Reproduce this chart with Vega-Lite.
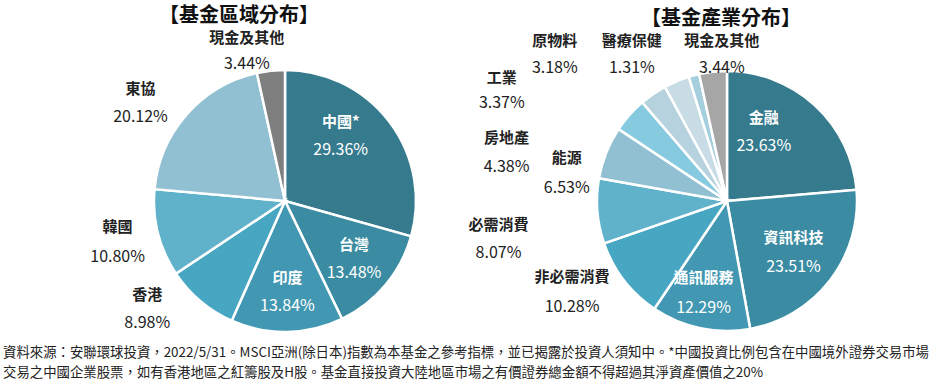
{
  "$schema": "https://vega.github.io/schema/vega-lite/v6.json",
  "padding": {"left": 3, "top": 5, "right": 0, "bottom": 0},
  "background": "white",
  "config": {
    "view": {"stroke": null},
    "font": "Noto Sans CJK TC",
    "text": {"font": "Noto Sans CJK TC", "baseline": "middle", "align": "center"}
  },
  "title": {
    "text": [
      "資料來源：安聯環球投資，2022/5/31。MSCI亞洲(除日本)指數為本基金之參考指標，並已揭露於投資人須知中。*中國投資比例包含在中國境外證券交易市場",
      "交易之中國企業股票，如有香港地區之紅籌股及H股。基金直接投資大陸地區市場之有價證券總金額不得超過其淨資產價值之20%"
    ],
    "orient": "bottom",
    "anchor": "start",
    "frame": "group",
    "fontSize": 13.4,
    "fontWeight": "normal",
    "color": "#222222",
    "font": "Noto Sans CJK TC",
    "lineHeight": 20,
    "offset": 5
  },
  "bounds": "flush",
  "spacing": 0,
  "resolve": {"scale": {"color": "independent", "theta": "independent"}},
  "hconcat": [
    {
      "width": 564,
      "height": 280,
      "title": {"text": "【基金區域分布】", "fontSize": 20, "fontWeight": "bold", "color": "#111111", "font": "Noto Sans CJK TC", "anchor": "middle", "dx": -46, "offset": 5},
      "data": {"values": [
        {"idx": 1, "name": "中國*", "share": 29.36},
        {"idx": 2, "name": "台灣", "share": 13.48},
        {"idx": 3, "name": "印度", "share": 13.84},
        {"idx": 4, "name": "香港", "share": 8.98},
        {"idx": 5, "name": "韓國", "share": 10.80},
        {"idx": 6, "name": "東協", "share": 20.12},
        {"idx": 7, "name": "現金及其他", "share": 3.44}
      ]},
      "transform": [
        {"stack": "share", "groupby": [], "sort": [{"field": "idx", "order": "ascending"}], "as": ["s0", "s1"]},
        {"calculate": "(datum.s0 + datum.s1) / 2", "as": "mid"},
        {"calculate": "format(datum.share, '.2f') + '%'", "as": "pct"}
      ],
      "encoding": {
        "theta": {"field": "mid", "type": "quantitative", "scale": {"domain": [0, 100.02], "range": [0, 6.283185], "nice": false, "zero": true}}
      },
      "layer": [
        {
          "mark": {"type": "arc", "radius": 131, "stroke": "white", "strokeWidth": 2.5},
          "encoding": {
            "theta": {"field": "s0", "type": "quantitative"},
            "theta2": {"field": "s1"},
            "color": {"field": "name", "type": "nominal", "legend": null,
              "scale": {"domain": ["中國*", "台灣", "印度", "香港", "韓國", "東協", "現金及其他"],
                        "range": ["#357a8d", "#3b8ca2", "#4298b2", "#47a6c1", "#60b2cb", "#91c0d3", "#7f7f7f"]}}
          }
        },
        {"transform": [{"filter": "datum.name === '中國*'"}], "encoding": {"radius": {"value": 90}}, "layer": [
          {"mark": {"type": "text", "dx": -16, "dy": -25, "fontSize": 15, "fontWeight": "bold", "fill": "white"}, "encoding": {"text": {"field": "name"}}},
          {"mark": {"type": "text", "dx": -16, "dy": 3, "fontSize": 16, "fill": "white"}, "encoding": {"text": {"field": "pct"}}}
        ]},
        {"transform": [{"filter": "datum.name === '台灣'"}], "encoding": {"radius": {"value": 90}}, "layer": [
          {"mark": {"type": "text", "dx": 0, "dy": -14, "fontSize": 15, "fontWeight": "bold", "fill": "white"}, "encoding": {"text": {"field": "name"}}},
          {"mark": {"type": "text", "dx": 0, "dy": 14, "fontSize": 16, "fill": "white"}, "encoding": {"text": {"field": "pct"}}}
        ]},
        {"transform": [{"filter": "datum.name === '印度'"}], "encoding": {"radius": {"value": 90}}, "layer": [
          {"mark": {"type": "text", "dx": 1, "dy": -13, "fontSize": 15, "fontWeight": "bold", "fill": "white"}, "encoding": {"text": {"field": "name"}}},
          {"mark": {"type": "text", "dx": 1, "dy": 15, "fontSize": 16, "fill": "white"}, "encoding": {"text": {"field": "pct"}}}
        ]},
        {"transform": [{"filter": "datum.name === '現金及其他'"}], "encoding": {"radius": {"value": 150}}, "layer": [
          {"mark": {"type": "text", "dx": -22, "dy": -14, "fontSize": 15, "fontWeight": "bold", "fill": "#222222"}, "encoding": {"text": {"field": "name"}}},
          {"mark": {"type": "text", "dx": -22, "dy": 12, "fontSize": 16, "fill": "#222222"}, "encoding": {"text": {"field": "pct"}}}
        ]},
        {"transform": [{"filter": "datum.name === '東協'"}], "encoding": {"radius": {"value": 150}}, "layer": [
          {"mark": {"type": "text", "dx": -32, "dy": -13, "fontSize": 15, "fontWeight": "bold", "fill": "#222222"}, "encoding": {"text": {"field": "name"}}},
          {"mark": {"type": "text", "dx": -32, "dy": 15, "fontSize": 16, "fill": "#222222"}, "encoding": {"text": {"field": "pct"}}}
        ]},
        {"transform": [{"filter": "datum.name === '韓國'"}], "encoding": {"radius": {"value": 150}}, "layer": [
          {"mark": {"type": "text", "dx": -22, "dy": -11, "fontSize": 15, "fontWeight": "bold", "fill": "#222222"}, "encoding": {"text": {"field": "name"}}},
          {"mark": {"type": "text", "dx": -22, "dy": 19, "fontSize": 16, "fill": "#222222"}, "encoding": {"text": {"field": "pct"}}}
        ]},
        {"transform": [{"filter": "datum.name === '香港'"}], "encoding": {"radius": {"value": 150}}, "layer": [
          {"mark": {"type": "text", "dx": -41, "dy": -21, "fontSize": 15, "fontWeight": "bold", "fill": "#222222"}, "encoding": {"text": {"field": "name"}}},
          {"mark": {"type": "text", "dx": -41, "dy": 7, "fontSize": 16, "fill": "#222222"}, "encoding": {"text": {"field": "pct"}}}
        ]}
      ]
    },
    {
      "width": 320,
      "height": 280,
      "title": {"text": "【基金產業分布】", "fontSize": 20, "fontWeight": "bold", "color": "#111111", "font": "Noto Sans CJK TC", "anchor": "middle", "dx": -6, "offset": 5},
      "data": {"values": [
        {"idx": 1, "name": "金融", "share": 23.63},
        {"idx": 2, "name": "資訊科技", "share": 23.51},
        {"idx": 3, "name": "通訊服務", "share": 12.29},
        {"idx": 4, "name": "非必需消費", "share": 10.28},
        {"idx": 5, "name": "必需消費", "share": 8.07},
        {"idx": 6, "name": "能源", "share": 6.53},
        {"idx": 7, "name": "房地產", "share": 4.38},
        {"idx": 8, "name": "工業", "share": 3.37},
        {"idx": 9, "name": "原物料", "share": 3.18},
        {"idx": 10, "name": "醫療保健", "share": 1.31},
        {"idx": 11, "name": "現金及其他", "share": 3.44}
      ]},
      "transform": [
        {"stack": "share", "groupby": [], "sort": [{"field": "idx", "order": "ascending"}], "as": ["s0", "s1"]},
        {"calculate": "(datum.s0 + datum.s1) / 2", "as": "mid"},
        {"calculate": "format(datum.share, '.2f') + '%'", "as": "pct"}
      ],
      "encoding": {
        "theta": {"field": "mid", "type": "quantitative", "scale": {"domain": [0, 99.99], "range": [0, 6.283185], "nice": false, "zero": true}}
      },
      "layer": [
        {
          "mark": {"type": "arc", "radius": 130, "stroke": "white", "strokeWidth": 2.5},
          "encoding": {
            "theta": {"field": "s0", "type": "quantitative"},
            "theta2": {"field": "s1"},
            "color": {"field": "name", "type": "nominal", "legend": null,
              "scale": {"domain": ["金融", "資訊科技", "通訊服務", "非必需消費", "必需消費", "能源", "房地產", "工業", "原物料", "醫療保健", "現金及其他"],
                        "range": ["#357a8d", "#3b8ca2", "#4298b2", "#47a6c1", "#60b2cb", "#91c0d3", "#86cadf", "#b5d2de", "#c8dce5", "#a6cfde", "#a6a6a6"]}}
          }
        },
        {"transform": [{"filter": "datum.name === '金融'"}], "encoding": {"radius": {"value": 90}}, "layer": [
          {"mark": {"type": "text", "dx": -24, "dy": -17, "fontSize": 15, "fontWeight": "bold", "fill": "white"}, "encoding": {"text": {"field": "name"}}},
          {"mark": {"type": "text", "dx": -24, "dy": 11, "fontSize": 16, "fill": "white"}, "encoding": {"text": {"field": "pct"}}}
        ]},
        {"transform": [{"filter": "datum.name === '資訊科技'"}], "encoding": {"radius": {"value": 90}}, "layer": [
          {"mark": {"type": "text", "dx": -5, "dy": -18, "fontSize": 15, "fontWeight": "bold", "fill": "white"}, "encoding": {"text": {"field": "name"}}},
          {"mark": {"type": "text", "dx": -5, "dy": 11, "fontSize": 16, "fill": "white"}, "encoding": {"text": {"field": "pct"}}}
        ]},
        {"transform": [{"filter": "datum.name === '通訊服務'"}], "encoding": {"radius": {"value": 90}}, "layer": [
          {"mark": {"type": "text", "dx": -5, "dy": -11, "fontSize": 15, "fontWeight": "bold", "fill": "white"}, "encoding": {"text": {"field": "name"}}},
          {"mark": {"type": "text", "dx": -5, "dy": 19, "fontSize": 16, "fill": "white"}, "encoding": {"text": {"field": "pct"}}}
        ]},
        {"transform": [{"filter": "datum.name === '現金及其他'"}], "encoding": {"radius": {"value": 150}}, "layer": [
          {"mark": {"type": "text", "dx": 11, "dy": -11, "fontSize": 15, "fontWeight": "bold", "fill": "#222222"}, "encoding": {"text": {"field": "name"}}},
          {"mark": {"type": "text", "dx": 11, "dy": 16, "fontSize": 16, "fill": "#222222"}, "encoding": {"text": {"field": "pct"}}}
        ]},
        {"transform": [{"filter": "datum.name === '醫療保健'"}], "encoding": {"radius": {"value": 150}}, "layer": [
          {"mark": {"type": "text", "dx": -57, "dy": -15, "fontSize": 15, "fontWeight": "bold", "fill": "#222222"}, "encoding": {"text": {"field": "name"}}},
          {"mark": {"type": "text", "dx": -57, "dy": 12, "fontSize": 16, "fill": "#222222"}, "encoding": {"text": {"field": "pct"}}}
        ]},
        {"transform": [{"filter": "datum.name === '原物料'"}], "encoding": {"radius": {"value": 150}}, "layer": [
          {"mark": {"type": "text", "dx": -114, "dy": -22, "fontSize": 15, "fontWeight": "bold", "fill": "#222222"}, "encoding": {"text": {"field": "name"}}},
          {"mark": {"type": "text", "dx": -114, "dy": 5, "fontSize": 16, "fill": "#222222"}, "encoding": {"text": {"field": "pct"}}}
        ]},
        {"transform": [{"filter": "datum.name === '工業'"}], "encoding": {"radius": {"value": 150}}, "layer": [
          {"mark": {"type": "text", "dx": -140, "dy": 0, "fontSize": 15, "fontWeight": "bold", "fill": "#222222"}, "encoding": {"text": {"field": "name"}}},
          {"mark": {"type": "text", "dx": -140, "dy": 25, "fontSize": 16, "fill": "#222222"}, "encoding": {"text": {"field": "pct"}}}
        ]},
        {"transform": [{"filter": "datum.name === '房地產'"}], "encoding": {"radius": {"value": 150}}, "layer": [
          {"mark": {"type": "text", "dx": -108, "dy": 36, "fontSize": 15, "fontWeight": "bold", "fill": "#222222"}, "encoding": {"text": {"field": "name"}}},
          {"mark": {"type": "text", "dx": -108, "dy": 65, "fontSize": 16, "fill": "#222222"}, "encoding": {"text": {"field": "pct"}}}
        ]},
        {"transform": [{"filter": "datum.name === '能源'"}], "encoding": {"radius": {"value": 150}}, "layer": [
          {"mark": {"type": "text", "dx": -21, "dy": 13, "fontSize": 15, "fontWeight": "bold", "fill": "#222222"}, "encoding": {"text": {"field": "name"}}},
          {"mark": {"type": "text", "dx": -21, "dy": 43, "fontSize": 16, "fill": "#222222"}, "encoding": {"text": {"field": "pct"}}}
        ]},
        {"transform": [{"filter": "datum.name === '必需消費'"}], "encoding": {"radius": {"value": 150}}, "layer": [
          {"mark": {"type": "text", "dx": -79, "dy": 12, "fontSize": 15, "fontWeight": "bold", "fill": "#222222"}, "encoding": {"text": {"field": "name"}}},
          {"mark": {"type": "text", "dx": -79, "dy": 40, "fontSize": 16, "fill": "#222222"}, "encoding": {"text": {"field": "pct"}}}
        ]},
        {"transform": [{"filter": "datum.name === '非必需消費'"}], "encoding": {"radius": {"value": 150}}, "layer": [
          {"mark": {"type": "text", "dx": -36, "dy": -15, "fontSize": 15, "fontWeight": "bold", "fill": "#222222"}, "encoding": {"text": {"field": "name"}}},
          {"mark": {"type": "text", "dx": -36, "dy": 15, "fontSize": 16, "fill": "#222222"}, "encoding": {"text": {"field": "pct"}}}
        ]}
      ]
    }
  ]
}
